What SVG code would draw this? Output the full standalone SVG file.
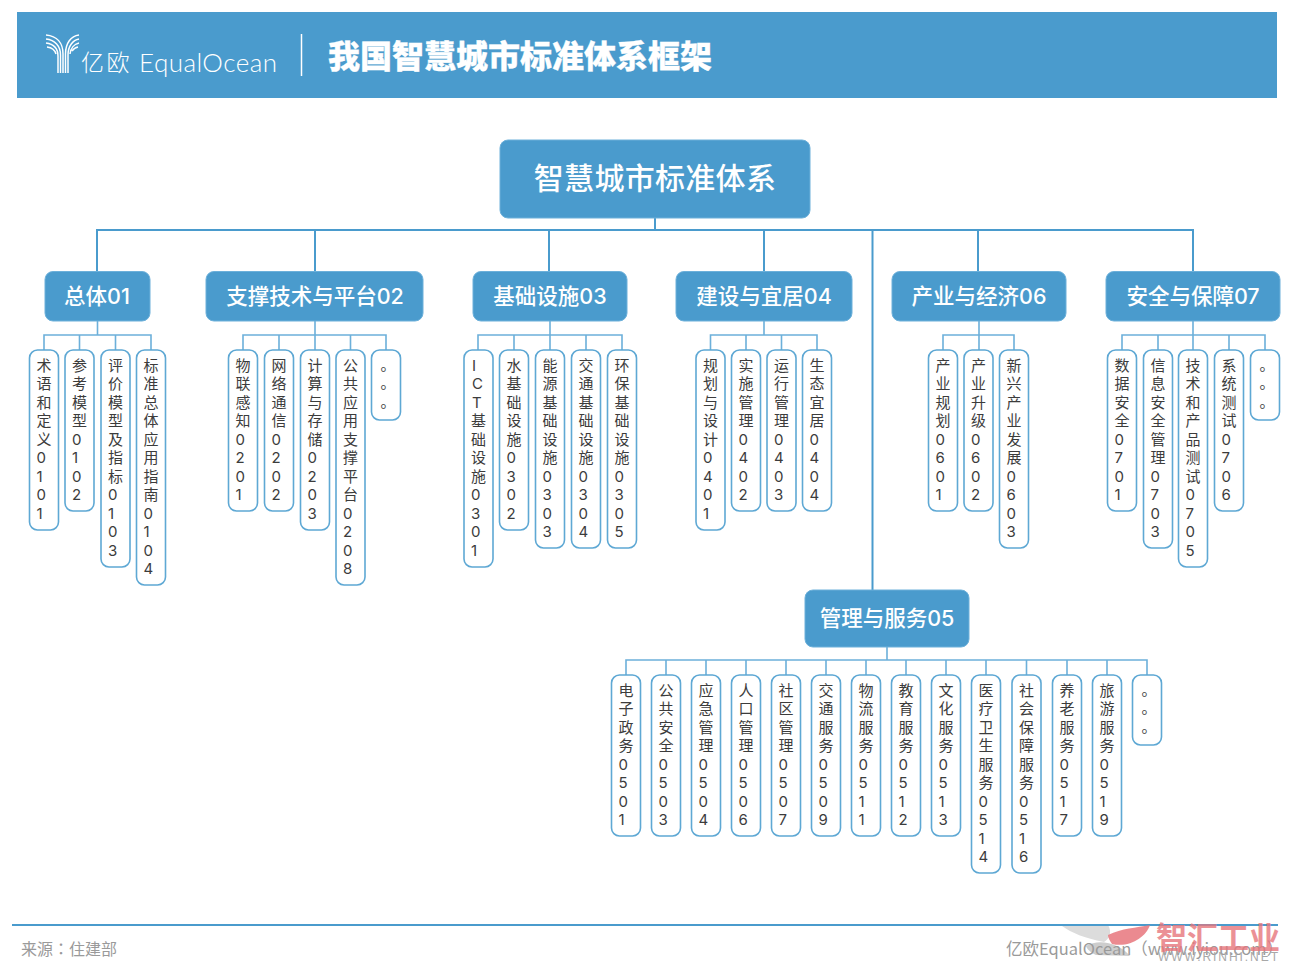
<svg xmlns="http://www.w3.org/2000/svg" width="1290" height="972" viewBox="0 0 1290 972">
<style>
text{font-family:"Noto Sans CJK SC","Noto Sans",sans-serif}
.bar{fill:#4a9bcd}
.box{fill:#4a9bcd;stroke:#6cb0da;stroke-width:1}
.root{font-size:30px;fill:#fff;text-anchor:middle;letter-spacing:.3px;font-weight:500}
.grp{font-size:21.500px;fill:#fff;text-anchor:middle;font-weight:500;font-family:Inter,"Noto Sans CJK SC",sans-serif}
.leaf rect{fill:#fff;stroke:#5ea8d4;stroke-width:1.6}
.leaf text{font-size:15px;fill:#3c3c3c;font-family:Inter,"Noto Sans CJK SC",sans-serif;transform:translateX(.5px)}
.leaf text.dots{font-family:"Noto Sans CJK SC",sans-serif;transform:translate(2.500px,-1px)}
#connectors path{fill:none;stroke:#4a9bcd;stroke-width:2}
#connectors path.sub{stroke:#6cb0da;stroke-width:1.6}
.logo path{fill:none;stroke:#fff;stroke-width:1.500}
.foot{font-size:16px;fill:#9a9a9a}
</style>
<rect width="1290" height="972" fill="#fff"/>
<g id="header">
<rect class="bar" x="17" y="12" width="1260" height="86"/>
<g class="logo">
<path d="M46 35C57 36 63 43 63 54V73M46 39C55 40 60.500 46 60.500 55V73M46 43C53 44 58 48 58 56V73M47 47C51 47.500 55 50 56 54"/>
<path d="M79 35C71 36 65.500 43 65.500 54V73M79 39C73 40 68 46 68 55V73M79 43C74.500 44 70.500 48 70 54M78 47C75 47.500 73 49.500 72 51"/>
</g>
<text x="81" y="71" font-size="23" fill="#fff" font-weight="300" letter-spacing="2.500">亿欧</text>
<text x="139" y="72" font-size="26" fill="#fff" font-weight="300" style="font-family:Lato,sans-serif" textLength="138">EqualOcean</text>
<path d="M301.500 34V76" stroke="#fff" stroke-width="1.500"/>
<text x="328" y="68" font-size="32" fill="#fff" font-weight="900" stroke="#fff" stroke-width=".3">我国智慧城市标准体系框架</text>
</g>
<g id="connectors">
<path d="M655 218V230M97 271V230H1193V271M315 230V271M549 230V271M764 230V271M978 230V271M872.500 230V590"/>
<path class="sub" d="M97.500 321V335M44 350V335H151V350M79.500 335V350M115.500 335V350"/>
<path class="sub" d="M315 321V350M243 350V335H386V350M279 335V350M350.500 335V350"/>
<path class="sub" d="M550 321V350M478 350V335H622V350M514 335V350M586 335V350"/>
<path class="sub" d="M764 321V335M710.500 350V335H817V350M746 335V350M781.500 335V350"/>
<path class="sub" d="M979 321V350M943 350V335H1014V350"/>
<path class="sub" d="M1193 321V350M1122 350V335H1265V350M1158 335V350M1229 335V350"/>
<path class="sub" d="M887 647V660M626 675V660H1147V675M666 660V675M706 660V675M746 660V675M786 660V675M826 660V675M866 660V675M906 660V675M946 660V675M986 660V675M1026.500 660V675M1067 660V675M1107 660V675"/>
</g>
<g id="root"><rect class="box" x="500" y="140" width="310" height="78" rx="8"/><text class="root" x="655" y="189">智慧城市标准体系</text></g>
<g id="g01"><rect class="box" x="45" y="271.500" width="105" height="49.500" rx="8"/><text class="grp" x="97" y="304">总体01</text></g>
<g id="g02"><rect class="box" x="206" y="271.500" width="217" height="49.500" rx="8"/><text class="grp" x="315" y="304">支撑技术与平台02</text></g>
<g id="g03"><rect class="box" x="473" y="271.500" width="154" height="49.500" rx="8"/><text class="grp" x="550" y="304">基础设施03</text></g>
<g id="g04"><rect class="box" x="676" y="271.500" width="176" height="49.500" rx="8"/><text class="grp" x="764" y="304">建设与宜居04</text></g>
<g id="g06"><rect class="box" x="892" y="271.500" width="174" height="49.500" rx="8"/><text class="grp" x="979" y="304">产业与经济06</text></g>
<g id="g07"><rect class="box" x="1106" y="271.500" width="174" height="49.500" rx="8"/><text class="grp" x="1193" y="304">安全与保障07</text></g>
<g id="g05"><rect class="box" x="805" y="590" width="164" height="57" rx="8"/><text class="grp" x="887" y="626">管理与服务05</text></g>
<g id="l0101" class="leaf" transform="translate(44,350)"><rect x="-14.500" width="29" height="180" rx="8"/><text x="-8 -8 -8 -8 -8 -8 -8 -8 -8" y="20.500 39 57.500 76 94.500 113 131.500 150 168.500">术语和定义0101</text></g>
<g id="l0102" class="leaf" transform="translate(79.500,350)"><rect x="-14.500" width="29" height="161" rx="8"/><text x="-8 -8 -8 -8 -8 -8 -8 -8" y="20.500 39 57.500 76 94.500 113 131.500 150">参考模型0102</text></g>
<g id="l0103" class="leaf" transform="translate(115.500,350)"><rect x="-14.500" width="29" height="217" rx="8"/><text x="-8 -8 -8 -8 -8 -8 -8 -8 -8 -8 -8" y="20.500 39 57.500 76 94.500 113 131.500 150 168.500 187 205.500">评价模型及指标0103</text></g>
<g id="l0104" class="leaf" transform="translate(151,350)"><rect x="-14.500" width="29" height="235" rx="8"/><text x="-8 -8 -8 -8 -8 -8 -8 -8 -8 -8 -8 -8" y="20.500 39 57.500 76 94.500 113 131.500 150 168.500 187 205.500 224">标准总体应用指南0104</text></g>
<g id="l0201" class="leaf" transform="translate(243,350)"><rect x="-14.500" width="29" height="161" rx="8"/><text x="-8 -8 -8 -8 -8 -8 -8 -8" y="20.500 39 57.500 76 94.500 113 131.500 150">物联感知0201</text></g>
<g id="l0202" class="leaf" transform="translate(279,350)"><rect x="-14.500" width="29" height="161" rx="8"/><text x="-8 -8 -8 -8 -8 -8 -8 -8" y="20.500 39 57.500 76 94.500 113 131.500 150">网络通信0202</text></g>
<g id="l0203" class="leaf" transform="translate(315,350)"><rect x="-14.500" width="29" height="180" rx="8"/><text x="-8 -8 -8 -8 -8 -8 -8 -8 -8" y="20.500 39 57.500 76 94.500 113 131.500 150 168.500">计算与存储0203</text></g>
<g id="l0208" class="leaf" transform="translate(350.500,350)"><rect x="-14.500" width="29" height="235" rx="8"/><text x="-8 -8 -8 -8 -8 -8 -8 -8 -8 -8 -8 -8" y="20.500 39 57.500 76 94.500 113 131.500 150 168.500 187 205.500 224">公共应用支撑平台0208</text></g>
<g id="l02x" class="leaf" transform="translate(386,350)"><rect x="-14.500" width="29" height="70" rx="8"/><text class="dots" x="-8 -8 -8" y="20.500 39 57.500">。。。</text></g>
<g id="l0301" class="leaf" transform="translate(478.500,350)"><rect x="-14.500" width="29" height="217" rx="8"/><text x="-7 -7 -7 -8 -8 -8 -8 -8 -8 -8 -8" y="20.500 39 57.500 76 94.500 113 131.500 150 168.500 187 205.500">ICT基础设施0301</text></g>
<g id="l0302" class="leaf" transform="translate(514,350)"><rect x="-14.500" width="29" height="180" rx="8"/><text x="-8 -8 -8 -8 -8 -8 -8 -8 -8" y="20.500 39 57.500 76 94.500 113 131.500 150 168.500">水基础设施0302</text></g>
<g id="l0303" class="leaf" transform="translate(550,350)"><rect x="-14.500" width="29" height="198" rx="8"/><text x="-8 -8 -8 -8 -8 -8 -8 -8 -8 -8" y="20.500 39 57.500 76 94.500 113 131.500 150 168.500 187">能源基础设施0303</text></g>
<g id="l0304" class="leaf" transform="translate(586,350)"><rect x="-14.500" width="29" height="198" rx="8"/><text x="-8 -8 -8 -8 -8 -8 -8 -8 -8 -8" y="20.500 39 57.500 76 94.500 113 131.500 150 168.500 187">交通基础设施0304</text></g>
<g id="l0305" class="leaf" transform="translate(622,350)"><rect x="-14.500" width="29" height="198" rx="8"/><text x="-8 -8 -8 -8 -8 -8 -8 -8 -8 -8" y="20.500 39 57.500 76 94.500 113 131.500 150 168.500 187">环保基础设施0305</text></g>
<g id="l0401" class="leaf" transform="translate(710.500,350)"><rect x="-14.500" width="29" height="180" rx="8"/><text x="-8 -8 -8 -8 -8 -8 -8 -8 -8" y="20.500 39 57.500 76 94.500 113 131.500 150 168.500">规划与设计0401</text></g>
<g id="l0402" class="leaf" transform="translate(746,350)"><rect x="-14.500" width="29" height="161" rx="8"/><text x="-8 -8 -8 -8 -8 -8 -8 -8" y="20.500 39 57.500 76 94.500 113 131.500 150">实施管理0402</text></g>
<g id="l0403" class="leaf" transform="translate(781.500,350)"><rect x="-14.500" width="29" height="161" rx="8"/><text x="-8 -8 -8 -8 -8 -8 -8 -8" y="20.500 39 57.500 76 94.500 113 131.500 150">运行管理0403</text></g>
<g id="l0404" class="leaf" transform="translate(817,350)"><rect x="-14.500" width="29" height="161" rx="8"/><text x="-8 -8 -8 -8 -8 -8 -8 -8" y="20.500 39 57.500 76 94.500 113 131.500 150">生态宜居0404</text></g>
<g id="l0601" class="leaf" transform="translate(943,350)"><rect x="-14.500" width="29" height="161" rx="8"/><text x="-8 -8 -8 -8 -8 -8 -8 -8" y="20.500 39 57.500 76 94.500 113 131.500 150">产业规划0601</text></g>
<g id="l0602" class="leaf" transform="translate(978.500,350)"><rect x="-14.500" width="29" height="161" rx="8"/><text x="-8 -8 -8 -8 -8 -8 -8 -8" y="20.500 39 57.500 76 94.500 113 131.500 150">产业升级0602</text></g>
<g id="l0603" class="leaf" transform="translate(1014,350)"><rect x="-14.500" width="29" height="198" rx="8"/><text x="-8 -8 -8 -8 -8 -8 -8 -8 -8 -8" y="20.500 39 57.500 76 94.500 113 131.500 150 168.500 187">新兴产业发展0603</text></g>
<g id="l0701" class="leaf" transform="translate(1122,350)"><rect x="-14.500" width="29" height="161" rx="8"/><text x="-8 -8 -8 -8 -8 -8 -8 -8" y="20.500 39 57.500 76 94.500 113 131.500 150">数据安全0701</text></g>
<g id="l0703" class="leaf" transform="translate(1158,350)"><rect x="-14.500" width="29" height="198" rx="8"/><text x="-8 -8 -8 -8 -8 -8 -8 -8 -8 -8" y="20.500 39 57.500 76 94.500 113 131.500 150 168.500 187">信息安全管理0703</text></g>
<g id="l0705" class="leaf" transform="translate(1193,350)"><rect x="-14.500" width="29" height="217" rx="8"/><text x="-8 -8 -8 -8 -8 -8 -8 -8 -8 -8 -8" y="20.500 39 57.500 76 94.500 113 131.500 150 168.500 187 205.500">技术和产品测试0705</text></g>
<g id="l0706" class="leaf" transform="translate(1229,350)"><rect x="-14.500" width="29" height="161" rx="8"/><text x="-8 -8 -8 -8 -8 -8 -8 -8" y="20.500 39 57.500 76 94.500 113 131.500 150">系统测试0706</text></g>
<g id="l07x" class="leaf" transform="translate(1265,350)"><rect x="-14.500" width="29" height="70" rx="8"/><text class="dots" x="-8 -8 -8" y="20.500 39 57.500">。。。</text></g>
<g id="l0501" class="leaf" transform="translate(626,675)"><rect x="-14.500" width="29" height="161" rx="8"/><text x="-8 -8 -8 -8 -8 -8 -8 -8" y="20.500 39 57.500 76 94.500 113 131.500 150">电子政务0501</text></g>
<g id="l0503" class="leaf" transform="translate(666,675)"><rect x="-14.500" width="29" height="161" rx="8"/><text x="-8 -8 -8 -8 -8 -8 -8 -8" y="20.500 39 57.500 76 94.500 113 131.500 150">公共安全0503</text></g>
<g id="l0504" class="leaf" transform="translate(706,675)"><rect x="-14.500" width="29" height="161" rx="8"/><text x="-8 -8 -8 -8 -8 -8 -8 -8" y="20.500 39 57.500 76 94.500 113 131.500 150">应急管理0504</text></g>
<g id="l0506" class="leaf" transform="translate(746,675)"><rect x="-14.500" width="29" height="161" rx="8"/><text x="-8 -8 -8 -8 -8 -8 -8 -8" y="20.500 39 57.500 76 94.500 113 131.500 150">人口管理0506</text></g>
<g id="l0507" class="leaf" transform="translate(786,675)"><rect x="-14.500" width="29" height="161" rx="8"/><text x="-8 -8 -8 -8 -8 -8 -8 -8" y="20.500 39 57.500 76 94.500 113 131.500 150">社区管理0507</text></g>
<g id="l0509" class="leaf" transform="translate(826,675)"><rect x="-14.500" width="29" height="161" rx="8"/><text x="-8 -8 -8 -8 -8 -8 -8 -8" y="20.500 39 57.500 76 94.500 113 131.500 150">交通服务0509</text></g>
<g id="l0511" class="leaf" transform="translate(866,675)"><rect x="-14.500" width="29" height="161" rx="8"/><text x="-8 -8 -8 -8 -8 -8 -8 -8" y="20.500 39 57.500 76 94.500 113 131.500 150">物流服务0511</text></g>
<g id="l0512" class="leaf" transform="translate(906,675)"><rect x="-14.500" width="29" height="161" rx="8"/><text x="-8 -8 -8 -8 -8 -8 -8 -8" y="20.500 39 57.500 76 94.500 113 131.500 150">教育服务0512</text></g>
<g id="l0513" class="leaf" transform="translate(946,675)"><rect x="-14.500" width="29" height="161" rx="8"/><text x="-8 -8 -8 -8 -8 -8 -8 -8" y="20.500 39 57.500 76 94.500 113 131.500 150">文化服务0513</text></g>
<g id="l0514" class="leaf" transform="translate(986,675)"><rect x="-14.500" width="29" height="198" rx="8"/><text x="-8 -8 -8 -8 -8 -8 -8 -8 -8 -8" y="20.500 39 57.500 76 94.500 113 131.500 150 168.500 187">医疗卫生服务0514</text></g>
<g id="l0516" class="leaf" transform="translate(1026.500,675)"><rect x="-14.500" width="29" height="198" rx="8"/><text x="-8 -8 -8 -8 -8 -8 -8 -8 -8 -8" y="20.500 39 57.500 76 94.500 113 131.500 150 168.500 187">社会保障服务0516</text></g>
<g id="l0517" class="leaf" transform="translate(1067,675)"><rect x="-14.500" width="29" height="161" rx="8"/><text x="-8 -8 -8 -8 -8 -8 -8 -8" y="20.500 39 57.500 76 94.500 113 131.500 150">养老服务0517</text></g>
<g id="l0519" class="leaf" transform="translate(1107,675)"><rect x="-14.500" width="29" height="161" rx="8"/><text x="-8 -8 -8 -8 -8 -8 -8 -8" y="20.500 39 57.500 76 94.500 113 131.500 150">旅游服务0519</text></g>
<g id="l05x" class="leaf" transform="translate(1147,675)"><rect x="-14.500" width="29" height="70" rx="8"/><text class="dots" x="-8 -8 -8" y="20.500 39 57.500">。。。</text></g>
<g id="footer">
<path d="M1062 926C1080 924 1095 924 1108 925C1112 932 1110 938 1104 942C1084 938 1072 933 1062 926Z" fill="#dcdcdc"/>
<path d="M1086 946C1100 938 1120 944 1130 956L1096 955C1090 952 1087 949 1086 946Z" fill="#cdcdcd"/>
<rect class="bar" x="12" y="924" width="1266" height="2"/>
<text class="foot" x="21" y="955" style="font-family:'Noto Sans CJK TC',sans-serif">来源：住建部</text>
<text class="foot" x="1006" y="955" style="font-size:16.500px">亿欧EqualOcean（www.iyiou.com）</text>
<path d="M1108 935C1122 928 1136 928 1150 925C1146 937 1130 948 1112 944C1110 941 1108 938 1108 935Z" fill="#e7767c" opacity=".85"/>
<text x="1156" y="949" font-size="31" font-weight="700" fill="#e7767c" opacity=".8">智汇工业</text>
<text x="1158" y="961" font-size="12" fill="#a8a8a8" textLength="120" style="font-family:'Liberation Sans',sans-serif">WWW.RINHI.NET</text>
</g>
</svg>
